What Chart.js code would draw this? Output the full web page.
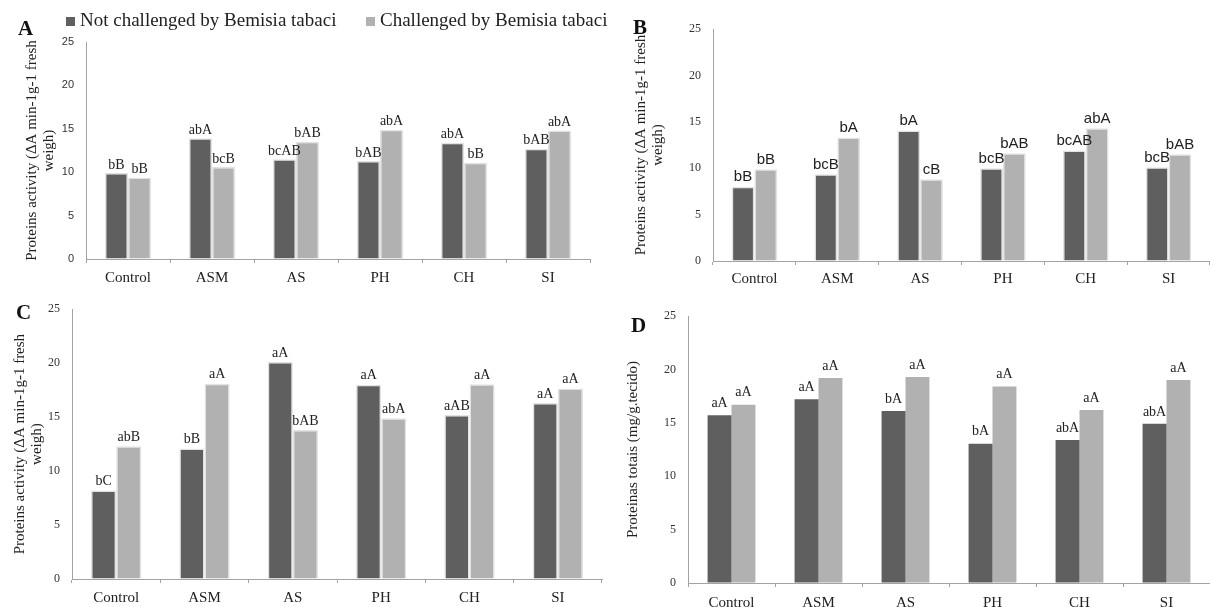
<!DOCTYPE html>
<html>
<head>
<meta charset="utf-8">
<script src="https://cdn.jsdelivr.net/npm/chart.js@4.4.0/dist/chart.umd.min.js"></script>
<style>
  body { margin: 0; background: #fff; }
  #wrap { position: relative; width: 1210px; height: 607px; overflow: hidden; font-family: "Liberation Serif", serif; }
  canvas { position: absolute; }
  .letter { position: absolute; font-weight: bold; font-size: 21px; line-height: 24px; color: #111; }
  .legend { position: absolute; top: 9px; font-size: 19px; line-height: 22px; color: #222; white-space: nowrap; }
  .legend i { position: absolute; width: 9px; height: 9px; top: 8px; }
</style>
</head>
<body>
<div id="wrap">
  <canvas id="chartA" width="600" height="290" style="left:0;top:0"></canvas>
  <canvas id="chartB" width="590" height="290" style="left:620px;top:0"></canvas>
  <canvas id="chartC" width="605" height="317" style="left:0;top:290px"></canvas>
  <canvas id="chartD" width="605" height="317" style="left:605px;top:290px"></canvas>
  <div class="letter" style="left:18px;top:16px">A</div>
  <div class="letter" style="left:633px;top:15px">B</div>
  <div class="letter" style="left:16px;top:300px">C</div>
  <div class="letter" style="left:631px;top:313px">D</div>
  <div id="legend"></div>
</div>
<script>
const categories = ["Control", "ASM", "AS", "PH", "CH", "SI"];
const seriesNames = ["Not challenged by Bemisia tabaci", "Challenged by Bemisia tabaci"];
const seriesColors = ["#5f5f5f", "#b1b1b1"];
const yTicks = [0, 5, 10, 15, 20, 25];

// panel A
const aNot = [9.9, 13.9, 11.5, 11.3, 13.4, 12.7];
const aChal = [9.4, 10.6, 13.5, 14.9, 11.1, 14.8];
const aNotLetters = ["bB", "abA", "bcAB", "bAB", "abA", "bAB"];
const aChalLetters = ["bB", "bcB", "bAB", "abA", "bB", "abA"];

// panel B
const bNot = [8.0, 9.35, 14.05, 10.0, 11.9, 10.1];
const bChal = [9.9, 13.3, 8.8, 11.6, 14.3, 11.5];
const bNotLetters = ["bB", "bcB", "bA", "bcB", "bcAB", "bcB"];
const bChalLetters = ["bB", "bA", "cB", "bAB", "abA", "bAB"];

// panel C
const cNot = [8.2, 12.1, 20.1, 18.0, 15.2, 16.3];
const cChal = [12.3, 18.1, 13.8, 14.9, 18.05, 17.65];
const cNotLetters = ["bC", "bB", "aA", "aA", "aAB", "aA"];
const cChalLetters = ["abB", "aA", "bAB", "abA", "aA", "aA"];

// panel D
const dNot = [15.7, 17.2, 16.1, 13.05, 13.4, 14.9];
const dChal = [16.7, 19.2, 19.3, 18.4, 16.2, 19.0];
const dNotLetters = ["aA", "aA", "bA", "bA", "abA", "abA"];
const dChalLetters = ["aA", "aA", "aA", "aA", "aA", "aA"];

const activityTitle = ["Proteins activity (\u0394A min-1g-1 fresh", "weigh)"];
const axisColor = "#a3a3a3";

const letterPlugin = (font, gap) => ({
  id: "barLetters",
  afterDatasetsDraw(chart) {
    const ctx = chart.ctx;
    ctx.save();
    ctx.font = font;
    ctx.fillStyle = "#222";
    ctx.textAlign = "center";
    ctx.textBaseline = "bottom";
    chart.data.datasets.forEach((ds, i) => {
      chart.getDatasetMeta(i).data.forEach((bar, j) => {
        ctx.fillText(ds.letters[j], bar.x, bar.y - gap);
      });
    });
    ctx.restore();
  }
});

const makePanel = (id, p) => {
  const datasets = [p.notVals, p.chalVals].map((vals, i) => ({
    label: seriesNames[i],
    data: vals,
    letters: i === 0 ? p.notLetters : p.chalLetters,
    backgroundColor: seriesColors[i],
    borderColor: "#e2e2e2",
    borderWidth: p.border,
    categoryPercentage: p.catPct,
    barPercentage: 1,
  }));
  return new Chart(document.getElementById(id), {
    type: "bar",
    data: { labels: categories, datasets },
    options: {
      responsive: false,
      animation: false,
      events: [],
      layout: { padding: { top: p.padTop, right: p.padRight, left: 0, bottom: 0 } },
      plugins: { legend: { display: false }, tooltip: { enabled: false } },
      scales: {
        x: {
          grid: { drawOnChartArea: false, drawTicks: true, tickLength: 4, color: axisColor },
          border: { color: axisColor },
          ticks: { font: { family: "Liberation Serif", size: 15 }, color: "#222", padding: p.xPad, maxRotation: 0, autoSkip: false },
          afterFit: s => { s.height = p.xHeight; },
        },
        y: {
          min: 0,
          max: 25,
          afterBuildTicks: s => { s.ticks = yTicks.map(v => ({ value: v })); },
          grid: { drawOnChartArea: false, drawTicks: false },
          border: { color: axisColor },
          ticks: { font: p.yFont, color: "#333", padding: 12 },
          title: {
            display: true,
            text: p.title,
            color: "#222",
            font: { family: "Liberation Serif", size: 15, lineHeight: 1.15 },
            padding: { top: p.titlePad, bottom: 0 },
          },
          afterFit: s => { s.width = p.yWidth; },
        },
      },
    },
    plugins: [letterPlugin(p.letterFont, p.gap)],
  });
};

makePanel("chartA", {
  notVals: aNot, chalVals: aChal, notLetters: aNotLetters, chalLetters: aChalLetters,
  padTop: 42, padRight: 10, yWidth: 86, xHeight: 31, xPad: 6, catPct: 0.55, border: 1.5,
  yFont: { family: "Liberation Sans", size: 11 }, title: activityTitle, titlePad: 23,
  letterFont: '14px "Liberation Serif"', gap: 1,
});

makePanel("chartB", {
  notVals: bNot, chalVals: bChal, notLetters: bNotLetters, chalLetters: bChalLetters,
  padTop: 29, padRight: 0, yWidth: 93, xHeight: 29, xPad: 5, catPct: 0.55, border: 1.5,
  yFont: { family: "Liberation Serif", size: 12 }, title: activityTitle, titlePad: 12,
  letterFont: '15px "Liberation Sans"', gap: 2,
});

makePanel("chartC", {
  notVals: cNot, chalVals: cChal, notLetters: cNotLetters, chalLetters: cChalLetters,
  padTop: 18, padRight: 3, yWidth: 72, xHeight: 28, xPad: 6, catPct: 0.57, border: 1.5,
  yFont: { family: "Liberation Serif", size: 12 }, title: activityTitle, titlePad: 11,
  letterFont: '14px "Liberation Serif"', gap: 2,
});

makePanel("chartD", {
  notVals: dNot, chalVals: dChal, notLetters: dNotLetters, chalLetters: dChalLetters,
  padTop: 26, padRight: 0, yWidth: 83, xHeight: 24, xPad: 7, catPct: 0.55, border: 0,
  yFont: { family: "Liberation Serif", size: 12 }, title: "Proteinas totais (mg/g.tecido)", titlePad: 19,
  letterFont: '14px "Liberation Serif"', gap: 5,
});

// legend above panel A
const legendPos = [66, 366];
const legend = document.getElementById("legend");
seriesNames.forEach((name, i) => {
  const item = document.createElement("div");
  item.className = "legend";
  item.style.left = legendPos[i] + "px";
  item.innerHTML = `<i style="left:0;background:${seriesColors[i]}"></i><span style="padding-left:14px">${name}</span>`;
  legend.appendChild(item);
});
</script>
</body>
</html>
